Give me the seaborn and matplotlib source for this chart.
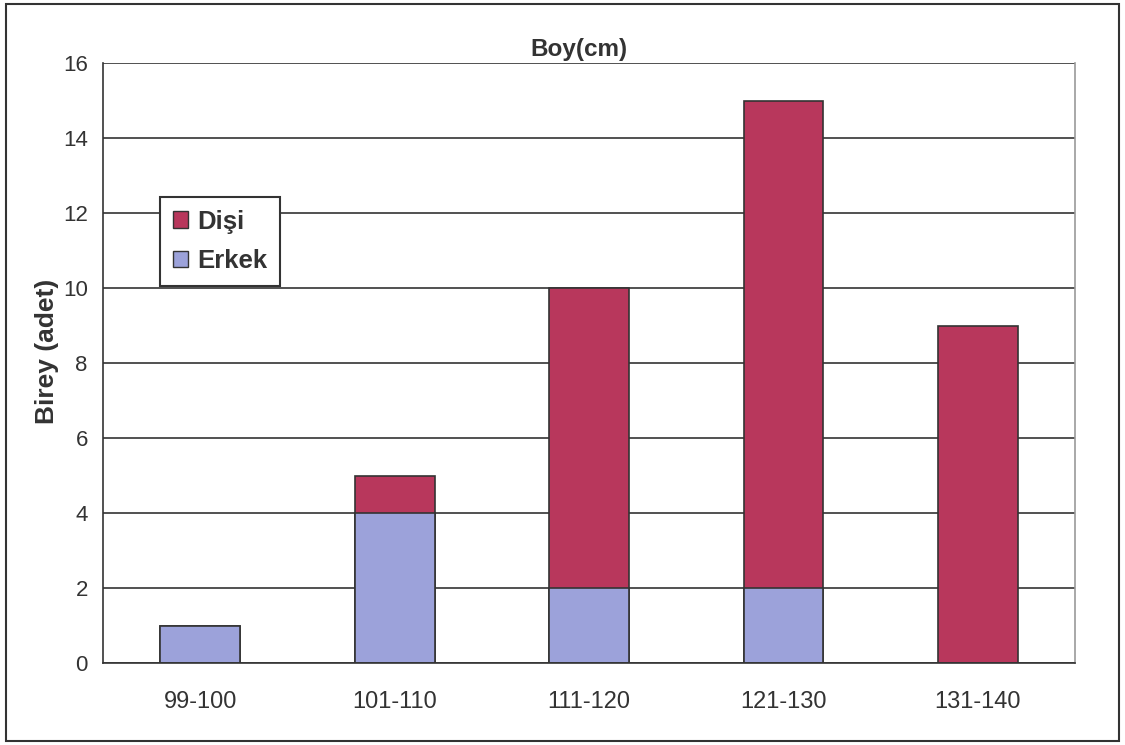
import matplotlib
matplotlib.use("Agg")
import matplotlib.pyplot as plt
from matplotlib.patches import Patch, Rectangle
import seaborn as sns
import pandas as pd

categories = ["99-100", "101-110", "111-120", "121-130", "131-140"]
erkek = [1, 4, 2, 2, 0]
disi = [0, 1, 8, 13, 9]
y_ticks = [0, 2, 4, 6, 8, 10, 12, 14, 16]

disi_color = "#B8375C"
erkek_color = "#9CA2DA"
ink = "#333333"

sns.set_style("white")
plt.rcParams["font.family"] = ["Liberation Sans", "DejaVu Sans"]

df = pd.DataFrame({"boy": categories, "erkek": erkek, "disi": disi})
df["toplam"] = df["erkek"] + df["disi"]

fig = plt.figure(figsize=(11.25, 7.45), dpi=100)
ax = fig.add_axes([0.0916, 0.110, 0.864, 0.8054])

# stacked: total (dişi on top) first, erkek drawn over the bottom part
sns.barplot(data=df, x="boy", y="toplam", color=disi_color, saturation=1,
            width=0.41, edgecolor=ink, linewidth=1.2, ax=ax)
sns.barplot(data=df[df["erkek"] > 0], x="boy", y="erkek", order=categories,
            color=erkek_color, saturation=1, width=0.41, edgecolor=ink,
            linewidth=1.2, ax=ax)

ax.set_ylim(0, 16)
ax.set_xlim(-0.5, 4.5)
ax.set_yticks(y_ticks)
ax.set_axisbelow(True)
ax.yaxis.grid(True, color=ink, linewidth=1.2)
ax.xaxis.grid(False)
ax.set_xticks(range(len(categories)))
ax.set_xticklabels(categories)
ax.set_xticks([0.5, 1.5, 2.5, 3.5, 4.5], minor=True)
ax.tick_params(axis="x", which="major", length=0, labelsize=17, pad=20, colors=ink)
ax.tick_params(axis="x", which="minor", length=6, width=1.2, color=ink, direction="out")
ax.tick_params(axis="y", length=6, width=1.2, labelsize=16, colors=ink, direction="out", pad=5)

for side in ["left", "bottom"]:
    ax.spines[side].set_color(ink)
    ax.spines[side].set_linewidth(1.2)
ax.spines["right"].set_color("#999999")
ax.spines["right"].set_linewidth(1.2)
ax.spines["top"].set_visible(False)

ax.set_xlabel("")
ax.set_ylabel("Birey (adet)", fontsize=19, fontweight="bold", color=ink)
ax.yaxis.set_label_coords(-0.045, 0.52)
ax.set_title("Boy(cm)", fontsize=17.5, fontweight="bold", color=ink, pad=5, x=0.49)

handles = [Patch(facecolor=disi_color, edgecolor=ink, label="Dişi"),
           Patch(facecolor=erkek_color, edgecolor=ink, label="Erkek")]
leg = ax.legend(handles=handles, loc="upper left", bbox_to_anchor=(0.0586, 0.777),
                borderaxespad=0, frameon=True, fancybox=False, handlelength=0.6,
                handleheight=0.6, handletextpad=0.35, borderpad=0.5, labelspacing=0.6,
                prop={"weight": "bold", "size": 18.5})
leg.get_frame().set_edgecolor(ink)
leg.get_frame().set_linewidth(1.5)
leg.get_frame().set_alpha(1)
for t in leg.get_texts():
    t.set_color(ink)

# outer frame around the whole figure
fig.patches.append(Rectangle((0.005, 0.006), 0.99, 0.988, transform=fig.transFigure,
                             fill=False, edgecolor=ink, linewidth=1.5))

fig.savefig("out.png", dpi=100)
